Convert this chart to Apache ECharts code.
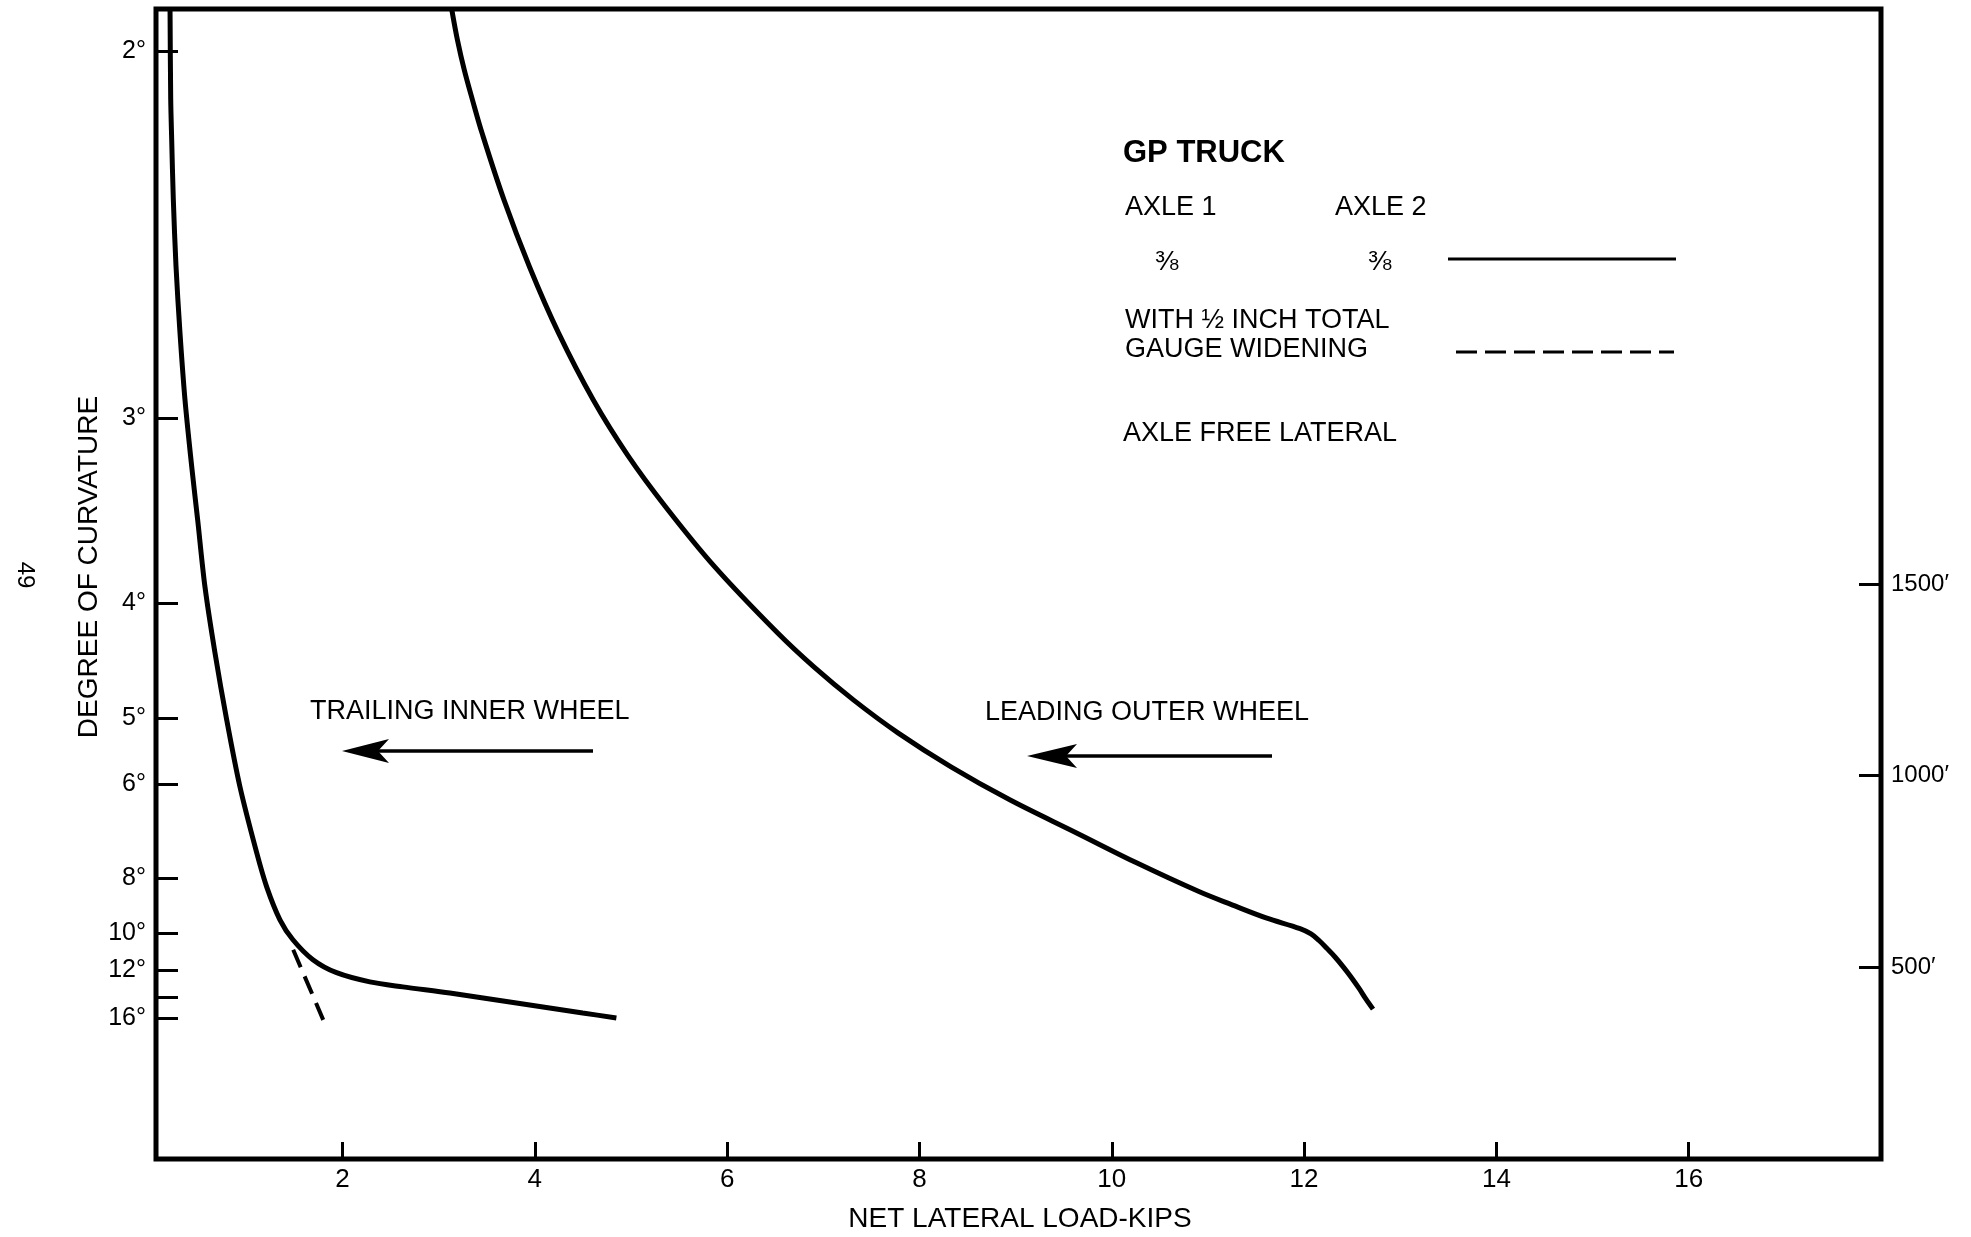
<!DOCTYPE html>
<html>
<head>
<meta charset="utf-8">
<script src="https://cdn.jsdelivr.net/npm/echarts@6/dist/echarts.min.js"></script>
<style>
html,body{margin:0;padding:0;background:#fff;}
#chart{width:1971px;height:1237px;}
</style>
</head>
<body>
<div id="chart"></div>
<script>
// ---- data (x: net lateral load, kips; y: curve radius, ft) ----
const xTickValues = [2, 4, 6, 8, 10, 12, 14, 16];
const radiusTickValues = [500, 1000, 1500];
const degreeTicks = [2, 3, 4, 5, 6, 8, 10, 12, 14, 16];
const degreeTickRadius = [2889, 1933, 1450, 1151, 978, 733, 590, 493, 423, 367];
const degreeLabelled = [true, true, true, true, true, true, true, true, false, true];

const trailingX = [0.206, 0.213, 0.223, 0.24, 0.268, 0.309, 0.361, 0.431, 0.493, 0.569, 0.673, 0.795, 0.933, 1.107, 1.211, 1.349, 1.484, 1.692, 1.938, 2.284, 2.627, 3.116, 3.809, 4.498, 4.848];
const trailingR = [3000, 2765, 2661, 2504, 2329, 2157, 1982, 1807, 1668, 1493, 1321, 1146, 971, 799, 710, 624, 572, 520, 486, 462, 449, 433, 407, 381, 368];

const widenedX = [1.487, 1.799];
const widenedR = [546, 363];

const leadingX = [3.135, 3.195, 3.266, 3.351, 3.450, 3.679, 3.945, 4.246, 4.608, 4.963, 5.355, 5.874, 6.526, 6.905, 7.316, 7.780, 8.328, 8.939, 9.639, 10.263, 10.912, 11.251, 11.605, 11.958, 12.072, 12.156, 12.239, 12.322, 12.405, 12.488, 12.572, 12.644, 12.717];
const leadingR = [3000, 2919, 2841, 2763, 2677, 2502, 2327, 2155, 1980, 1837, 1703, 1544, 1372, 1283, 1197, 1111, 1023, 937, 850, 772, 697, 663, 629, 601, 587, 570, 549, 527, 502, 475, 445, 417, 391];

const zip = (xs, ys) => xs.map((x, i) => [x, ys[i]]);

const FONT = '"Liberation Sans", Arial, Helvetica, sans-serif';
const chart = echarts.init(document.getElementById('chart'), null, {renderer: 'canvas'});

function txt(text, x, y, size, opts) {
  opts = opts || {};
  return {
    type: 'text', x: x, y: y, rotation: opts.rotation || 0, z: 10,
    style: {
      text: text, x: 0, y: 0,
      fontSize: size, fontFamily: FONT, fontWeight: opts.bold ? 'bold' : 'normal',
      fill: '#000', align: opts.align || 'left', verticalAlign: 'middle'
    }
  };
}
function arrow(x1, x2, y, headBack) {
  return [
    {type: 'line', z: 10, shape: {x1: x1 + 10, y1: y, x2: x2, y2: y}, style: {stroke: '#000', lineWidth: 3.5}},
    {type: 'polygon', z: 10, shape: {points: [[x1, y], [x1 + headBack, y - 12], [x1 + headBack - 11, y], [x1 + headBack, y + 12]]},
     style: {fill: '#000'}}
  ];
}

const option = {
  backgroundColor: '#fff',
  animation: false,
  grid: {left: 156, top: 9, width: 1725, height: 1150, show: true, borderColor: '#000', borderWidth: 5, backgroundColor: 'transparent'},
  xAxis: {
    type: 'value', min: 0.06, max: 18,
    axisLine: {show: false},
    splitLine: {show: false},
    axisTick: {show: true, inside: true, length: 17, customValues: xTickValues, lineStyle: {color: '#000', width: 3}},
    axisLabel: {customValues: xTickValues, margin: 8, color: '#000', fontSize: 26, fontFamily: FONT}
  },
  yAxis: [
    {
      type: 'value', min: 0, max: 3000, position: 'left',
      axisLine: {show: false},
      splitLine: {show: false},
      axisTick: {show: true, inside: true, length: 22, customValues: degreeTickRadius, lineStyle: {color: '#000', width: 3}},
      axisLabel: {
        customValues: degreeTickRadius.filter((v, i) => degreeLabelled[i]),
        margin: 10, color: '#000', fontSize: 25, fontFamily: FONT,
        formatter: function (v) {
          let best = 0;
          for (let i = 1; i < degreeTickRadius.length; i++) {
            if (Math.abs(degreeTickRadius[i] - v) < Math.abs(degreeTickRadius[best] - v)) best = i;
          }
          return degreeTicks[best] + '°';
        }
      }
    },
    {
      type: 'value', min: 0, max: 3000, position: 'right',
      axisLine: {show: false},
      splitLine: {show: false},
      axisTick: {show: true, inside: true, length: 22, customValues: radiusTickValues, lineStyle: {color: '#000', width: 3}},
      axisLabel: {customValues: radiusTickValues, margin: 10, color: '#000', fontSize: 24, fontFamily: FONT,
        formatter: v => v + '′'}
    }
  ],
  series: [
    {type: 'line', name: 'Trailing inner wheel', data: zip(trailingX, trailingR), showSymbol: false, symbol: 'none',
     smooth: 0.3, lineStyle: {color: '#000', width: 5}, z: 5},
    {type: 'line', name: 'Gauge widening', data: zip(widenedX, widenedR), showSymbol: false, symbol: 'none',
     lineStyle: {color: '#000', width: 4, type: [19, 10]}, z: 5},
    {type: 'line', name: 'Leading outer wheel', data: zip(leadingX, leadingR), showSymbol: false, symbol: 'none',
     smooth: 0.35, lineStyle: {color: '#000', width: 5}, z: 5}
  ],
  graphic: [
    txt('DEGREE OF CURVATURE', 89, 567, 28, {rotation: Math.PI / 2, align: 'center'}),
    txt('NET LATERAL LOAD-KIPS', 1020, 1219, 28, {align: 'center'}),
    txt('49', 25, 575, 24, {rotation: -Math.PI / 2, align: 'center'}),
    txt('GP TRUCK', 1123, 153, 31, {bold: true}),
    txt('AXLE 1', 1125, 208, 27),
    txt('AXLE 2', 1335, 208, 27),
    txt('⅜', 1155, 262, 28),
    txt('⅜', 1368, 262, 28),
    {type: 'line', z: 10, shape: {x1: 1448, y1: 259, x2: 1676, y2: 259}, style: {stroke: '#000', lineWidth: 3}},
    txt('WITH ½ INCH TOTAL', 1125, 321, 27),
    txt('GAUGE WIDENING', 1125, 350, 27),
    {type: 'line', z: 10, shape: {x1: 1456, y1: 352, x2: 1674, y2: 352}, style: {stroke: '#000', lineWidth: 3, lineDash: [21, 8]}},
    txt('AXLE FREE LATERAL', 1123, 434, 27),
    txt('TRAILING INNER WHEEL', 310, 712, 27),
    ...arrow(342, 593, 751, 47),
    txt('LEADING OUTER WHEEL', 985, 713, 27),
    ...arrow(1027, 1272, 756, 50)
  ]
};
chart.setOption(option);
</script>
</body>
</html>
